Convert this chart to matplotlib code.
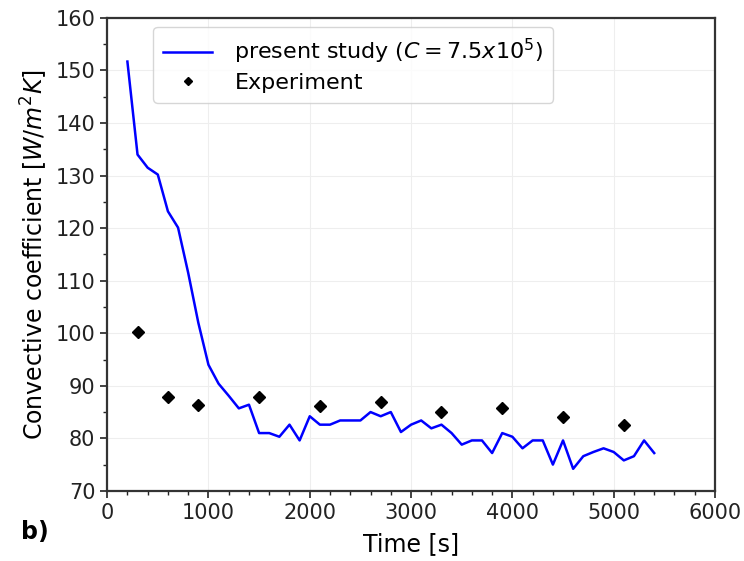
import matplotlib
matplotlib.use("Agg")
import matplotlib.pyplot as plt
from matplotlib.ticker import MultipleLocator

time_sim = [200, 300, 400, 500, 600, 700, 800, 900, 1000, 1100, 1200, 1300, 1400,
            1500, 1600, 1700, 1800, 1900, 2000, 2100, 2200, 2300, 2400, 2500, 2600,
            2700, 2800, 2900, 3000, 3100, 3200, 3300, 3400, 3500, 3600, 3700, 3800,
            3900, 4000, 4100, 4200, 4300, 4400, 4500, 4600, 4700, 4800, 4900, 5000,
            5100, 5200, 5300, 5400]
h_sim = [151.7, 134.0, 131.5, 130.2, 123.2, 120.1, 111.5, 102.0, 94.0, 90.4, 88.1,
         85.7, 86.4, 81.0, 81.0, 80.3, 82.6, 79.6, 84.2, 82.6, 82.6, 83.4, 83.4,
         83.4, 85.0, 84.2, 85.0, 81.2, 82.6, 83.4, 81.9, 82.6, 81.0, 78.8, 79.6,
         79.6, 77.2, 81.0, 80.3, 78.1, 79.6, 79.6, 75.0, 79.6, 74.2, 76.6, 77.4,
         78.1, 77.4, 75.8, 76.6, 79.6, 77.2]

time_exp = [300, 600, 900, 1500, 2100, 2700, 3300, 3900, 4500, 5100]
h_exp = [100.2, 87.9, 86.4, 87.8, 86.1, 87.0, 85.0, 85.7, 84.1, 82.5]

fig = plt.figure(figsize=(7.44, 5.61), dpi=100)
ax = fig.add_axes([0.144, 0.125, 0.817, 0.843])

ax.plot(time_sim, h_sim, color='#0000ff', lw=1.8,
        label=r'present study ($C = 7.5x10^5$)')
ax.plot(time_exp, h_exp, 'D', color='black', ms=6, linestyle='none',
        label='Experiment')

ax.set_xlim(0, 6000)
ax.set_ylim(70, 160)
ax.xaxis.set_major_locator(MultipleLocator(1000))
ax.xaxis.set_minor_locator(MultipleLocator(200))
ax.yaxis.set_major_locator(MultipleLocator(10))
ax.yaxis.set_minor_locator(MultipleLocator(5))
ax.grid(True, which='major', color='#eeeeee', lw=0.8)
ax.set_axisbelow(True)
ax.tick_params(which='major', labelsize=15, length=5, width=1.2, colors='#222222')
ax.tick_params(which='minor', length=3, width=1.0, colors='#222222')
for s in ax.spines.values():
    s.set_linewidth(1.6)
    s.set_color('#333333')

ax.set_xlabel('Time [s]', fontsize=17, labelpad=7)
ax.set_ylabel(r'Convective coefficient [$W/m^2K$]', fontsize=17, labelpad=4)

leg = ax.legend(loc='upper left', bbox_to_anchor=(0.076, 0.981), borderaxespad=0,
                fontsize=16, numpoints=1, markerscale=0.75, handlelength=2.2,
                borderpad=0.45, labelspacing=0.3, handletextpad=1.0)
leg.get_frame().set_edgecolor('#cccccc')

fig.text(0.028, 0.04, 'b)', fontsize=17, fontweight='bold')

fig.savefig('out.png', dpi=100)
